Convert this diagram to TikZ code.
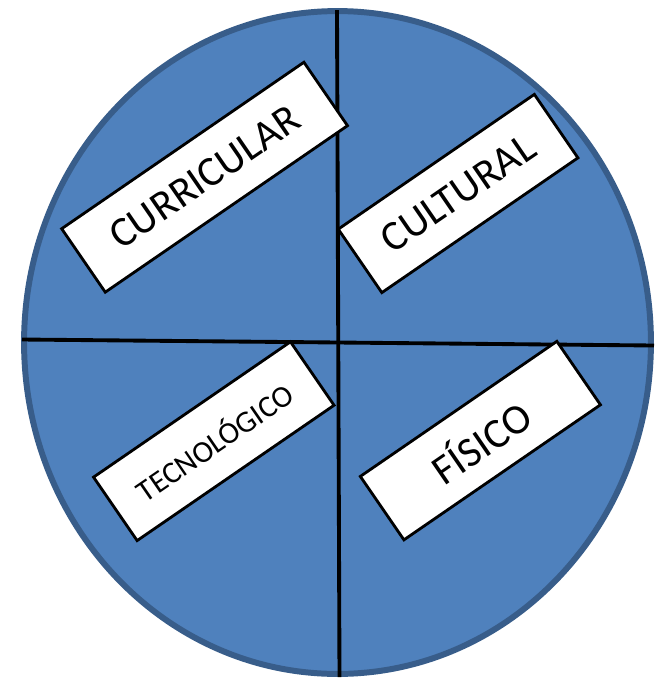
\documentclass[tikz,border=0pt]{standalone}
\usepackage{fontspec}
\setmainfont{Carlito}
\definecolor{azul}{HTML}{4F81BD}
\definecolor{borde}{HTML}{385D8A}
\begin{document}
\begin{tikzpicture}[x=0.02cm,y=-0.02cm,
  etiqueta/.style={draw=black,fill=white,line width=1.6pt,rotate=34.5,
    minimum height=1.54cm,inner sep=0pt,font=\fontsize{24}{28}\selectfont},
  eje/.style={black,line width=2.2pt}]
\useasboundingbox (0,0) rectangle (654,681);
\draw[fill=azul,draw=borde,line width=3.4pt] (337.5,342.5) ellipse [x radius=6.27cm,y radius=6.63cm];
\coordinate (arriba) at (337,10);
\coordinate (abajo) at (339.5,677);
\coordinate (izq) at (22,339.5);
\coordinate (der) at (654,345.5);
\draw[eje] (arriba)--(abajo);
\draw[eje] (izq)--(der);
\node[etiqueta,minimum width=5.88cm] (curricular) at (204.6,177.2) {CURRICULAR};
\node[etiqueta,minimum width=4.76cm] (cultural) at (458.1,193.5) {CULTURAL};
\node[etiqueta,minimum width=4.78cm,font=\fontsize{17.5}{20}\selectfont] (tecnologico) at (213.8,441.2) {TECNOLÓGICO};
\node[etiqueta,minimum width=4.77cm] (fisico) at (480.4,440.6) {FÍSICO};
\end{tikzpicture}
\end{document}
